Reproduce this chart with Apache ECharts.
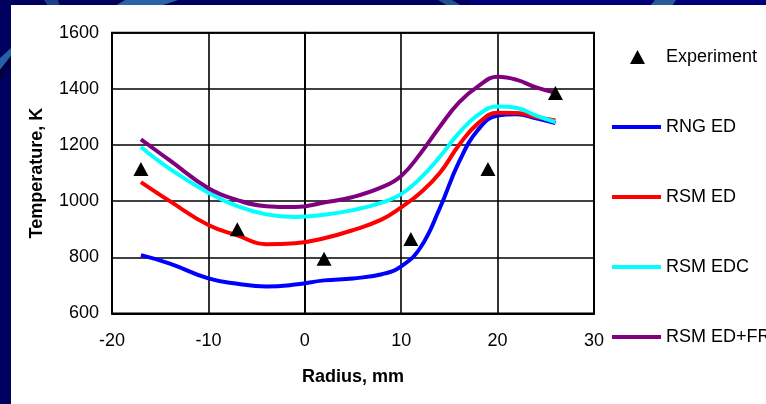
<!DOCTYPE html>
<html>
<head>
<meta charset="utf-8">
<script src="https://cdn.jsdelivr.net/npm/echarts@6/dist/echarts.min.js"></script>
<style>
  html, body { margin: 0; padding: 0; background: #00005e; }
  #chart { width: 766px; height: 404px; }
</style>
</head>
<body>
<div id="chart"></div>
<script>
// Radial temperature profiles: measured points and four model predictions
const radius = [-17, -14, -10, -7, -4, -1, 2, 5, 8, 10, 12, 14, 16, 18, 20, 22, 24, 26];

const rngEd    = [808, 778, 725, 706, 696, 703, 718, 725, 740, 768, 835, 975, 1140, 1255, 1305, 1310, 1295, 1278];
const rsmEd    = [1068, 1000, 915, 878, 847, 850, 868, 897, 935, 978, 1030, 1100, 1200, 1278, 1315, 1314, 1300, 1287];
const rsmEdc   = [1193, 1115, 1030, 982, 953, 944, 952, 968, 995, 1025, 1082, 1158, 1243, 1308, 1337, 1332, 1305, 1282];
const rsmEdFr  = [1220, 1145, 1046, 1004, 982, 979, 995, 1015, 1050, 1090, 1170, 1265, 1352, 1410, 1443, 1432, 1405, 1386];

const expRadius = [-17, -7, 2, 11, 19, 26];
const expTemp   = [1115, 900, 795, 865, 1115, 1385];

const xTicks = { min: -20, max: 30, step: 10 };
const yTicks = { min: 600, max: 1600, step: 200 };

const seriesNames = ['RNG ED', 'RSM ED', 'RSM EDC', 'RSM ED+FR'];
const seriesColors = ['#0000ff', '#ff0000', '#00ffff', '#800080'];
const seriesValues = [rngEd, rsmEd, rsmEdc, rsmEdFr];

const pair = (xs, ys) => xs.map((x, i) => [x, ys[i]]);

const lineSeries = seriesNames.map((name, i) => ({
  name: name,
  type: 'line',
  data: pair(radius, seriesValues[i]),
  smooth: 0.45,
  showSymbol: false,
  symbol: 'none',
  lineStyle: { color: seriesColors[i], width: 4 },
  itemStyle: { color: seriesColors[i] },
  z: 3 + i
}));

const font = 'Liberation Sans, Arial, sans-serif';

const chart = echarts.init(document.getElementById('chart'), null, { renderer: 'canvas' });
chart.setOption({
  animation: false,
  backgroundColor: '#00005e',
  graphic: {
    elements: [
      // lighter navy on the upper right edge
      { type: 'rect', z: -20, silent: true, shape: { x: 470, y: 0, width: 296, height: 6 }, style: { fill: '#000078' } },
      // pale blue swooshes in the frame
      { type: 'polygon', z: -19, silent: true, shape: { points: [[0, 58], [11, 48], [11, 56], [0, 70]] }, style: { fill: '#2660a8' } },
      { type: 'polygon', z: -19, silent: true, shape: { points: [[0, 70], [11, 56], [11, 64], [0, 80]] }, style: { fill: '#00003a' } },
      { type: 'polygon', z: -19, silent: true, shape: { points: [[115, 6], [125, 0], [178, 0], [160, 6]] }, style: { fill: '#2a64a6' } },
      { type: 'polygon', z: -19, silent: true, shape: { points: [[44, 0], [58, 0], [60, 6], [48, 6]] }, style: { fill: '#1c3f86' } },
      { type: 'polygon', z: -19, silent: true, shape: { points: [[438, 0], [452, 0], [462, 6], [448, 6]] }, style: { fill: '#22508f' } },
      { type: 'polygon', z: -19, silent: true, shape: { points: [[655, 0], [676, 0], [672, 6], [650, 6]] }, style: { fill: '#2a5a9a' } },
      // white panel
      { type: 'rect', z: -18, silent: true, shape: { x: 11, y: 5, width: 755, height: 399 }, style: { fill: '#ffffff' } }
    ]
  },
  grid: {
    left: 112, top: 32.7, right: 172, bottom: 90.5,
    show: true, backgroundColor: '#ffffff', borderColor: '#000', borderWidth: 2
  },
  legend: [
    {
      data: [{ name: 'Experiment', icon: 'triangle', itemStyle: { color: '#000', opacity: 1 } }],
      left: 630, top: 48,
      padding: 0,
      itemWidth: 15, itemHeight: 14,
      selectedMode: false,
      textStyle: { fontFamily: font, fontSize: 18, color: '#000', padding: [0, 0, 0, 16] }
    },
    {
      data: seriesNames.map(n => ({ name: n, icon: 'rect' })),
      orient: 'vertical',
      left: 612, top: 118,
      padding: 0,
      itemWidth: 49, itemHeight: 4,
      itemGap: 52,
      selectedMode: false,
      textStyle: { fontFamily: font, fontSize: 18, color: '#000', lineHeight: 18 }
    }
  ],
  xAxis: {
    type: 'value',
    min: xTicks.min, max: xTicks.max, interval: xTicks.step,
    name: 'Radius, mm', nameLocation: 'middle', nameGap: 55,
    nameTextStyle: { fontFamily: font, fontSize: 18, fontWeight: 'bold', color: '#000' },
    axisLine: { lineStyle: { color: '#000', width: 2 } },
    axisTick: { show: false },
    axisLabel: { fontFamily: font, fontSize: 18, color: '#000', margin: 19, formatter: v => String(v) },
    splitLine: { show: true, lineStyle: { color: '#000', width: 1.6 } }
  },
  yAxis: {
    type: 'value',
    min: yTicks.min, max: yTicks.max, interval: yTicks.step,
    name: 'Temperature, K', nameLocation: 'middle', nameGap: 66,
    nameTextStyle: { fontFamily: font, fontSize: 18, fontWeight: 'bold', color: '#000' },
    axisLine: { lineStyle: { color: '#000', width: 2 } },
    axisTick: { show: false },
    axisLabel: { fontFamily: font, fontSize: 18, color: '#000', margin: 13, formatter: v => String(v) },
    splitLine: { show: true, lineStyle: { color: '#000', width: 1.6 } }
  },
  series: [
    {
      name: 'Experiment',
      type: 'scatter',
      data: pair(expRadius, expTemp),
      symbol: 'triangle',
      symbolSize: [15, 14],
      itemStyle: { color: '#000', opacity: 1 },
      z: 10
    }
  ].concat(lineSeries)
});
</script>
</body>
</html>
